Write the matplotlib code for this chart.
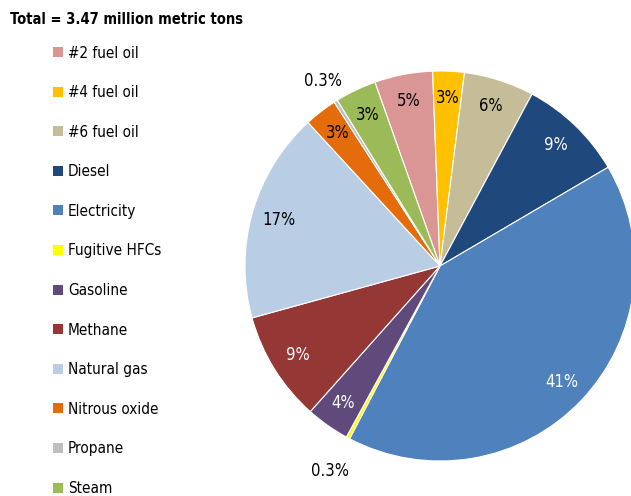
import matplotlib
matplotlib.use("Agg")
import matplotlib.pyplot as plt
from matplotlib.patches import Rectangle
import numpy as np

categories = ["#2 fuel oil", "#4 fuel oil", "#6 fuel oil", "Diesel", "Electricity",
              "Fugitive HFCs", "Gasoline", "Methane", "Natural gas", "Nitrous oxide",
              "Propane", "Steam"]
shares = [4.8, 2.6, 5.8, 8.7, 41.0, 0.3, 3.6, 9.1, 17.4, 2.7, 0.3, 3.4]
colors = ["#D99694", "#FFC000", "#C4BD97", "#1F497D", "#4F81BD", "#FFFF00",
          "#604A7B", "#953735", "#B9CDE5", "#E46C0A", "#BFBFBF", "#9BBB59"]
label_colors = ["black", "black", "black", "white", "white", "black",
                "white", "white", "black", "black", "black", "black"]
label_dist = [0.86, 0.86, 0.86, 0.86, 0.86, 1.19, 0.86, 0.86, 0.86, 0.86, 1.12, 0.86]
title = "Total = 3.47 million metric tons"

plt.rcParams["font.family"] = ["DejaVu Sans"]
plt.rcParams["font.stretch"] = "condensed"

W, H = 631, 496
fig = plt.figure(figsize=(W / 100, H / 100), dpi=100)

# pie axes: center (440, 266) px, radius 195 px
cx, cy, R = 440, 266, 195
span = 1.3
half = span * R
ax = fig.add_axes([(cx - half) / W, (H - cy - half) / H, 2 * half / W, 2 * half / H])

total = sum(shares)
wedges, _ = ax.pie(shares, colors=colors, startangle=109.5, counterclock=False,
                   radius=1.0, wedgeprops=dict(edgecolor="white", linewidth=0.8))
ax.set_xlim(-span, span)
ax.set_ylim(-span, span)
ax.set_aspect("equal")
ax.axis("off")
for w in wedges:
    w.set_clip_on(False)

# percentage labels
for w, v, lc, d in zip(wedges, shares, label_colors, label_dist):
    pct = v / total * 100
    mid = np.deg2rad((w.theta1 + w.theta2) / 2)
    txt = f"{pct:.1f}%" if pct < 1 else f"{pct:.0f}%"
    ax.text(d * np.cos(mid), d * np.sin(mid), txt, ha="center", va="center",
            fontsize=12, color=lc, fontstretch="condensed")

# title
fig.text(10 / W, 1 - 20 / H, title, fontsize=10.5, fontweight="bold",
         ha="left", va="center", fontstretch="condensed")

# legend
for i, (cat, col) in enumerate(zip(categories, colors)):
    yc = 52 + 39.6 * i
    fig.patches.append(Rectangle((53 / W, 1 - (yc + 5) / H), 10 / W, 10 / H,
                                 transform=fig.transFigure, facecolor=col,
                                 edgecolor="none"))
    fig.text(68 / W, 1 - (yc + 1) / H, cat, fontsize=11, ha="left", va="center",
             fontstretch="condensed")

fig.savefig("out.png", dpi=100)
